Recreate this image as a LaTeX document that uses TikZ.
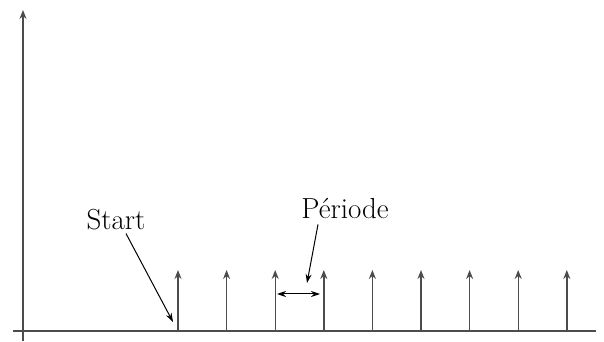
\documentclass[tikz,border=0pt]{standalone}
\usepackage{fontspec}
\usetikzlibrary{arrows.meta}

\tikzset{
  axis/.style={line width=1.4pt,draw=black!70,-{Stealth[length=9pt,width=7pt]}},
  pulse/.style={line width=1.4pt,draw=black!70,-{Stealth[length=9pt,width=7pt]}},
  pointer/.style={line width=1pt,-{Stealth[length=9pt,width=6pt]}},
  span/.style={line width=1pt,{Stealth[length=9pt,width=6pt]}-{Stealth[length=9pt,width=6pt]}},
  label/.style={font=\fontsize{29}{34}\selectfont,inner sep=1pt},
}

\begin{document}
\begin{tikzpicture}[x=1pt,y=1pt]
  % bounding box
  \useasboundingbox (0,0) rectangle (604,342);
  % Axes
  \draw[axis] (23,1) -- (23,332);
  \draw[line width=1.4pt,draw=black!70] (13,11) -- (596,11);
  % Pulses
  \foreach \i in {0,...,8} {
    \coordinate (b\i) at (178+48.6*\i,11);
    \coordinate (t\i) at (178+48.6*\i,72);
    \draw[pulse] (b\i) -- (t\i);
  }
  % Labels
  \node[label] (start) at (116,122) {Start};
  \node[label] (periode) at (345,133) {Période};
  % Pointers
  \coordinate (s1) at (173,20);
  \coordinate (p1) at (307,59);
  \coordinate (d1) at (277,48);
  \coordinate (d2) at (320,48);
  \draw[pointer] (start.south) ++(10,-2) -- (s1);
  \draw[pointer] (periode.south) ++(-27,-4) -- (p1);
  \draw[span] (d1) -- (d2);
\end{tikzpicture}
\end{document}
